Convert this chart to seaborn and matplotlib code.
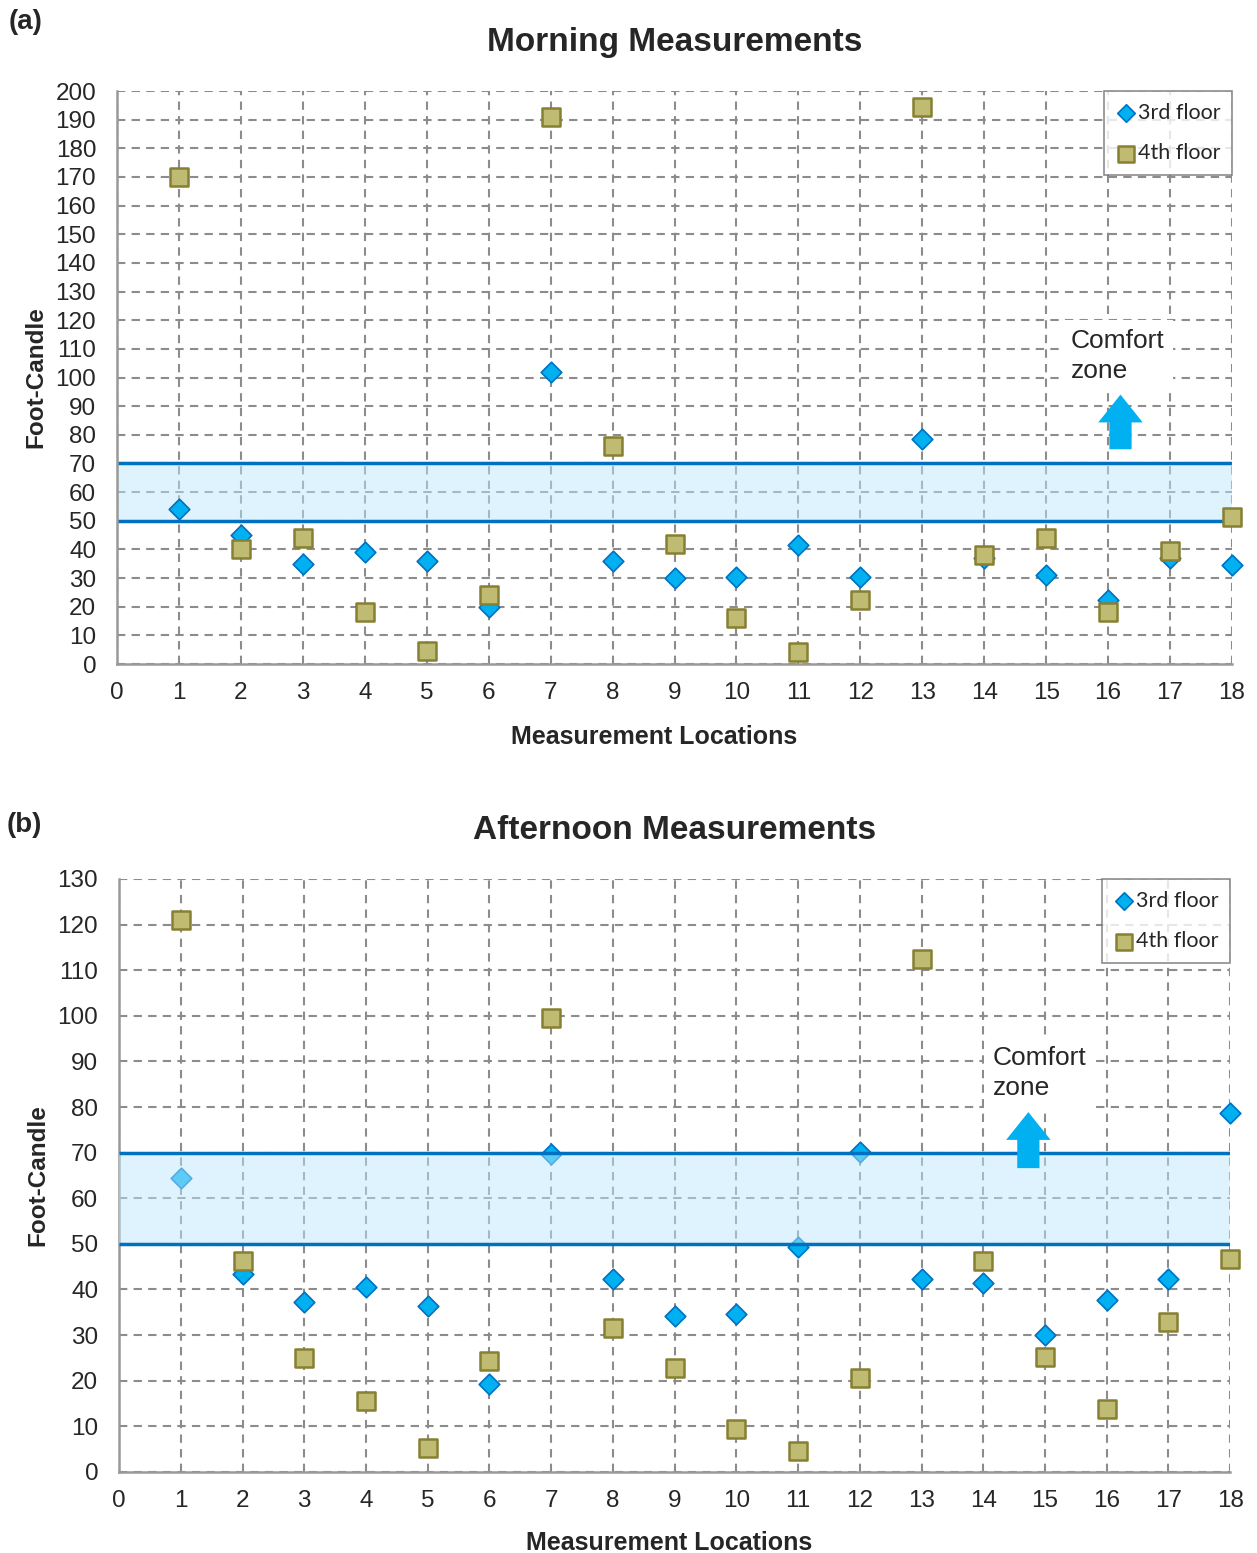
import numpy as np
import pandas as pd
import matplotlib
matplotlib.use("Agg")
import matplotlib.pyplot as plt
import seaborn as sns

# ---------------- data ----------------
locations = list(range(1, 19))

morning_3rd = [54, 45, 35, 39, 36, 20, 102, 36, 30, 30.5, 41.5, 30.5, 78.5, 37, 31, 22.5, 37, 34.5]
morning_4th = [170, 40, 44, 18, 4.5, 24, 191, 76, 42, 16, 4.2, 22.5, 194.5, 38, 44, 18, 39.5, 51.5]

afternoon_3rd = [64.5, 43.5, 37.3, 40.6, 36.4, 19.3, 69.7, 42.3, 34.2, 34.6, 49.3, 70.2, 42.3, 41.4, 30, 37.7, 42.3, 78.7]
afternoon_4th = [121, 46.3, 25, 15.6, 5.3, 24.3, 99.5, 31.6, 22.8, 9.4, 4.6, 20.6, 112.5, 46.3, 25.2, 13.8, 32.9, 46.7]

comfort_low, comfort_high = 50, 70

panels = [
    dict(tag="(a)", title="Morning Measurements", s3=morning_3rd, s4=morning_4th,
         ymax=200, band_on_top=False, text_xy=(15.4, 98), arrow=(16.2, 74, 95),
         xlab=(0.482, -0.107)),
    dict(tag="(b)", title="Afternoon Measurements", s3=afternoon_3rd, s4=afternoon_4th,
         ymax=130, band_on_top=True, text_xy=(14.15, 81.5), arrow=(14.73, 66, 79.5),
         xlab=(0.495, -0.1)),
]

# ---------------- style ----------------
sns.set_style("white")
plt.rcParams["font.family"] = ["Liberation Sans", "DejaVu Sans"]

blue_face, blue_edge = "#00b0f0", "#0070c0"
olive_face, olive_edge = "#c0bb72", "#878033"
grid_col = "#8c8c8c"

fig = plt.figure(figsize=(12.57, 15.53), dpi=100)
ax_pos = [[0.0931, 0.5724, 0.887, 0.369], [0.0947, 0.0522, 0.884, 0.3818]]
tag_pos = [(0.007, 0.994), (0.005, 0.477)]

for i, p in enumerate(panels):
    ax = fig.add_axes(ax_pos[i])
    df = pd.DataFrame({"loc": locations, "3rd floor": p["s3"], "4th floor": p["s4"]})

    # semi-transparent comfort band (in (b) it sits over the markers)
    zb = 5 if p["band_on_top"] else 1
    ax.fill_between([0, 18], comfort_low, comfort_high, color="#bde8fb",
                    alpha=0.49, lw=0, zorder=zb)
    ax.hlines([comfort_low, comfort_high], 0, 18, color=blue_edge, lw=2.5, zorder=zb + 0.1)

    sns.scatterplot(data=df, x="loc", y="3rd floor", marker="D", s=110,
                    color=blue_face, edgecolor=blue_edge, linewidth=1.2,
                    label="3rd floor", ax=ax, zorder=3, clip_on=False)
    sns.scatterplot(data=df, x="loc", y="4th floor", marker="s", s=170,
                    color=olive_face, edgecolor=olive_edge, linewidth=1.8,
                    label="4th floor", ax=ax, zorder=4, clip_on=False)

    ax.set_xlim(0, 18)
    ax.set_ylim(0, p["ymax"])
    ax.set_xticks(range(0, 19))
    ax.set_yticks(range(0, p["ymax"] + 1, 10))
    ax.grid(True, ls=(0, (4, 3)), color=grid_col, lw=1.5, zorder=0)
    ax.set_axisbelow(True)
    for s in ["top", "right"]:
        ax.spines[s].set_visible(False)
    for s in ["left", "bottom"]:
        ax.spines[s].set_color("#999999")
        ax.spines[s].set_linewidth(1.8)
    ax.tick_params(axis="both", direction="out", length=7, width=1.5, color="#999999",
                   labelsize=17.5, pad=6)
    ax.tick_params(axis="y", pad=8)

    ax.set_title(p["title"], fontsize=24, fontweight="bold", pad=29)
    ax.set_xlabel("Measurement Locations", fontsize=18, fontweight="bold")
    ax.xaxis.set_label_coords(*p["xlab"])
    ax.set_ylabel("Foot-Candle", fontsize=17.5, fontweight="bold", labelpad=5.5)

    # comfort zone annotation with white box behind
    tx, ty = p["text_xy"]
    ax.text(tx, ty, "Comfort\nzone", fontsize=19, linespacing=1.35, ha="left", va="bottom",
            zorder=6, bbox=dict(facecolor="white", edgecolor="none", pad=6))
    axx, ay0, ay1 = p["arrow"]
    ax.annotate("", xy=(axx, ay1), xytext=(axx, ay0), zorder=7,
                arrowprops=dict(arrowstyle="simple,head_width=1.6,head_length=1.0,tail_width=0.8",
                                color="#00b0f0", lw=0, mutation_scale=20))

    leg = ax.legend(loc="upper right", bbox_to_anchor=(1.0, 1.0), frameon=True, fancybox=False,
                    edgecolor="#707070", handletextpad=0.1, borderpad=0.55, labelspacing=0.95,
                    prop={"family": "Lato", "size": 15.5}, handlelength=0.9, borderaxespad=0.0,
                    markerscale=0.85)
    leg.get_frame().set_linewidth(1.2)
    leg.set_zorder(10)

    fig.text(tag_pos[i][0], tag_pos[i][1], p["tag"], fontsize=20, fontweight="bold", va="top")

fig.savefig("out.png", dpi=100)
